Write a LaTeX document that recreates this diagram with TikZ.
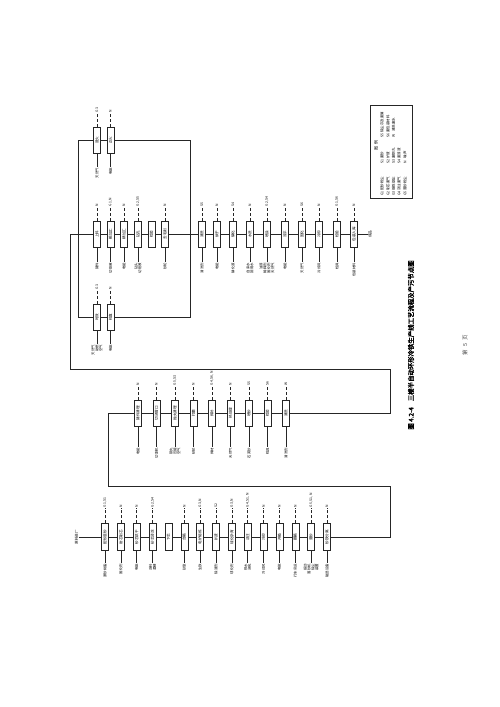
\documentclass[tikz,border=0pt]{standalone}
\usepackage{fontspec}
\setmainfont{Noto Sans CJK SC}[AutoFakeBold=2.5]
\begin{document}
\begin{tikzpicture}[x=1pt,y=-1pt,
  flow/.style={line width=0.6pt, draw=black!85},
  pbox/.style={draw=black!85, fill=white, line width=0.55pt, rotate=90, minimum width=26pt, minimum height=7pt, inner sep=0pt, font=\fontsize{3.6}{4}\selectfont},
  emis/.style={rotate=90, anchor=west, inner sep=0.6pt, font=\fontsize{3.4}{3.9}\selectfont},
  inpt/.style={rotate=90, anchor=east, inner sep=0.6pt, align=right, font=\fontsize{3.4}{3.9}\selectfont},
  emline/.style={densely dashed, line width=0.45pt, draw=black!85},
  inline/.style={line width=0.45pt, draw=black!85},
  lbl/.style={rotate=90, inner sep=0.6pt, font=\fontsize{3.6}{4}\selectfont},
  legtext/.style={rotate=90, anchor=west, inner sep=0pt, font=\fontsize{3.5}{4}\selectfont}
]
\fill[white] (0,0) rectangle (500,707);
\useasboundingbox (0,0) rectangle (500,707);

% ---------------- Group A ----------------
\foreach \i/\px/\pname/\pemi/\pinp in {
 1/105/配砂混砂/{G1, S1}/原砂树脂,
 2/120.9/射芯制芯/N/固化剂,
 3/136.7/砂芯烘干/N/电能,
 4/152.6/砂芯浸涂/{G2, S4}/{涂料\\酒精},
 5/168.4/下芯/{}/{},
 6/184.3/合箱/N/砂型,
 7/200.1/电炉熔炼/{G3, N}/生铁,
 8/216/扒渣/S2/除渣剂,
 9/231.9/球化孕育/{G3, N}/球化剂,
 10/247.7/浇注/{G4, S1, N}/{铁水\\浇包},
 11/263.6/冷却/N/冷却风,
 12/279.4/开箱/N/电能,
 13/295.3/翻箱/N/行车吊运,
 14/311.1/落砂/{G5, S1, N}/{振动\\落砂机\\除尘\\装置},
 15/327/砂铁分离/N/磁选设备}{
  \node[pbox, minimum width=27pt] (a\i) at (\px,537) {\pname};
  \ifx\pemi\empty\else
    \node[emis] (ae\i) at (\px,508) {\pemi};
    \draw[emline] (a\i.east) -- (ae\i.west);
  \fi
  \ifx\pinp\empty\else
    \node[inpt] (an\i) at (\px,563) {\pinp};
    \draw[inline] (a\i.west) -- (an\i.east);
  \fi
}
\node[lbl] (start) at (76.5,537) {原料进厂};
\draw[flow] (start.south) -- (a1.north);
\foreach \j [count=\k from 2] in {1,...,14} \draw[flow] (a\j.south) -- (a\k.north);

% ---------------- Group B ----------------
\foreach \i/\px/\pname/\pemi/\pinp in {
 1/138/铸件清理/N/电能,
 2/156.5/切浇冒口/N/切割机,
 3/175/抛丸清理/{G5, S3}/{钢丸\\压缩\\空气},
 4/193.5/打磨/N/砂轮,
 5/212/焊补/{G4, S6, N}/焊材,
 6/230.5/热处理/N/天然气,
 7/249/喷砂/S5/石英砂,
 8/267.5/检验/S6/检具,
 9/286/清洗/W/清洗剂}{
  \node[pbox] (b\i) at (\px,413) {\pname};
  \ifx\pemi\empty\else
    \node[emis] (be\i) at (\px,386) {\pemi};
    \draw[emline] (b\i.east) -- (be\i.west);
  \fi
  \ifx\pinp\empty\else
    \node[inpt] (bn\i) at (\px,447) {\pinp};
    \draw[inline] (b\i.west) -- (bn\i.east);
  \fi
}
\foreach \j [count=\k from 2] in {1,...,8} \draw[flow] (b\j.south) -- (b\k.north);

% ---------------- Group C ----------------
\foreach \i/\px/\pname/\pemi/\pinp in {
 1/97/上料/N/铸件,
 2/110.5/粗加工/{G1, N}/切削液,
 3/124/精加工/N/电能,
 4/138/钻孔/{G2, S5}/{钻头\\切削液},
 5/151.5/检验/{}/{},
 6/165/去毛刺/N/砂轮,
 7/202/清洗/S5/清洗剂,
 8/217/烘干/N/电能,
 9/233/磷化/S4/磷化液,
 10/250/水洗/N/{自来水\\回用水},
 11/267/喷涂/{G2, S4}/{油漆\\稀释剂\\固化剂\\天然气},
 12/285/流平/N/电能,
 13/302/固化/S6/天然气,
 14/319/冷却/N/冷却风,
 15/337/检验/{G1, S6}/检具,
 16/354/包装入库/N/包装材料}{
  \node[pbox] (c\i) at (\px,234) {\pname};
  \ifx\pemi\empty\else
    \node[emis] (ce\i) at (\px,207) {\pemi};
    \draw[emline] (c\i.east) -- (ce\i.west);
  \fi
  \ifx\pinp\empty\else
    \node[inpt] (cn\i) at (\px,262) {\pinp};
    \draw[inline] (c\i.west) -- (cn\i.east);
  \fi
}
\foreach \j [count=\k from 2] in {1,...,15} \draw[flow] (c\j.south) -- (c\k.north);

% top branch
\foreach \i/\px/\pname/\pemi/\pinp in {1/97/退火/G3/天然气, 2/110.5/正火/N/电能}{
  \node[pbox] (t\i) at (\px,140) {\pname};
  \node[emis] (te\i) at (\px,113) {\pemi};
  \draw[emline] (t\i.east) -- (te\i.west);
  \node[inpt] (tn\i) at (\px,167) {\pinp};
  \draw[inline] (t\i.west) -- (tn\i.east);
}
% bottom branch
\foreach \i/\px/\pname/\pemi/\pinp in {1/97/时效/G3/{天然气\\助燃\\空气}, 2/110.5/校直/N/电能}{
  \node[pbox] (d\i) at (\px,317) {\pname};
  \node[emis] (de\i) at (\px,290) {\pemi};
  \draw[emline] (d\i.east) -- (de\i.west);
  \node[inpt] (dn\i) at (\px,344) {\pinp};
  \draw[inline] (d\i.west) -- (dn\i.east);
}

% ---------------- connectors between groups ----------------
\coordinate (ka1) at (390,537);
\coordinate (ka2) at (390,486);
\coordinate (ka3) at (108,486);
\coordinate (ka4) at (108,413);
\draw[flow] (a15.south) -- (ka1) -- (ka2) -- (ka3) -- (ka4) -- (b1.north);
\coordinate (kb1) at (390,413);
\coordinate (kb2) at (390,369);
\coordinate (kb3) at (70,369);
\coordinate (kb4) at (70,234);
\draw[flow] (b9.south) -- (kb1) -- (kb2) -- (kb3) -- (kb4) -- (c1.north);
\coordinate (jl) at (78,234);
\coordinate (jr) at (190,234);
\coordinate (tl) at (78,140);
\coordinate (tr) at (190,140);
\coordinate (bl) at (78,317);
\coordinate (br) at (190,317);
\draw[flow] (jl) -- (tl) -- (t1.north);
\draw[flow] (t1.south) -- (t2.north);
\draw[flow] (t2.south) -- (tr) -- (jr);
\draw[flow] (jl) -- (bl) -- (d1.north);
\draw[flow] (d1.south) -- (d2.north);
\draw[flow] (d2.south) -- (br) -- (jr);
\node[lbl] (fin) at (370,234) {成品};
\draw[flow] (c16.south) -- (fin.north);

% ---------------- legend ----------------
\node[draw=black!85, line width=0.55pt, minimum width=42pt, minimum height=93pt, inner sep=0pt] (leg) at (391,151.5) {};
\node[rotate=90, inner sep=0pt, font=\fontsize{4}{4.5}\selectfont] (leghead) at (376,145) {图\hspace{2pt}例};
\foreach \r/\lx/\ta/\tb in {1/382/G1 配砂粉尘/S1 废砂, 2/388/G2 制芯废气/S2 炉渣, 3/393.5/G3 熔炼烟尘/S3 废钢丸, 4/399/G4 浇注废气/S4 废漆渣, 5/405/G5 落砂粉尘/N\hspace{2pt} 噪声}{
  \node[legtext] (lga\r) at (\lx,196) {\ta};
  \node[legtext] (lgb\r) at (\lx,164) {\tb};
}
\foreach \r/\lx/\tc in {1/382/S5 除尘灰及废屑, 2/388/S6 废包装材料, 3/393.5/W\hspace{2pt} 清洗废水}{
  \node[legtext] (lgc\r) at (\lx,138) {\tc};
}

% ---------------- title and page ----------------
\node[rotate=90, inner sep=0pt, font=\bfseries\fontsize{6.4}{7}\selectfont] (title) at (411,345) {图 4.2-4\hspace{6pt}三楼半自动环形冷铁生产线工艺流程及产污节点图};
\node[rotate=90, inner sep=0pt, text=black!70, font=\fontsize{5.5}{6}\selectfont] (page) at (465,345) {第\hspace{3pt}5\hspace{3pt}页};
\end{tikzpicture}
\end{document}
